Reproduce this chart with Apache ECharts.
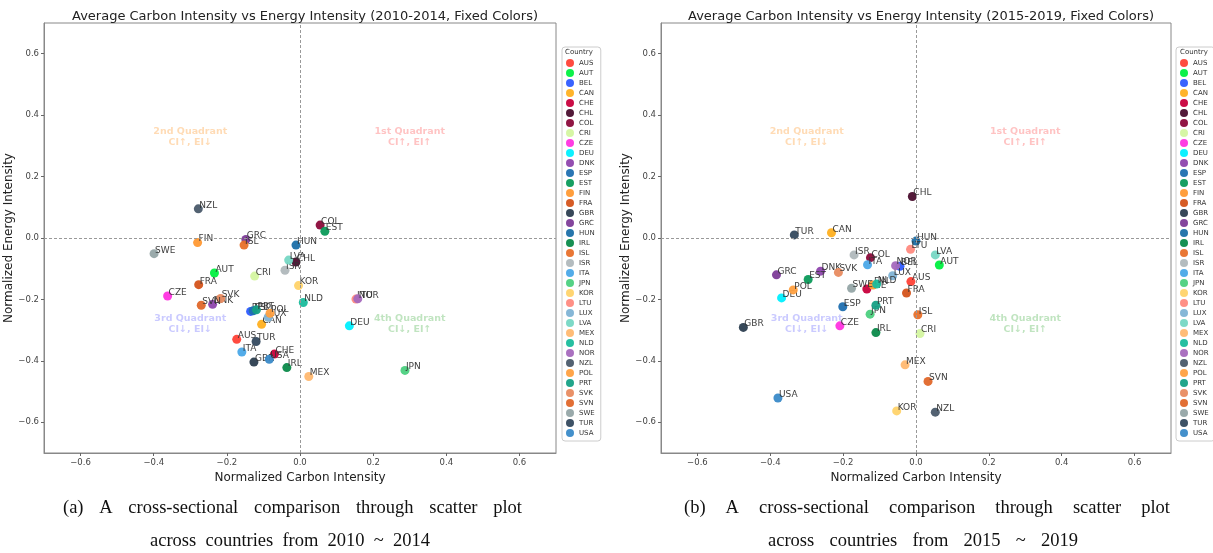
<!DOCTYPE html>
<html>
<head>
<meta charset="utf-8">
<script src="https://cdn.jsdelivr.net/npm/echarts@6/dist/echarts.min.js"></script>
<style>
  html, body { margin: 0; padding: 0; background: #fff; }
  #chart { width: 1213px; height: 553px; }
</style>
</head>
<body>
<div id="chart"></div>
<script>
// country codes, same order as the legend
const countries = ['AUS','AUT','BEL','CAN','CHE','CHL','COL','CRI','CZE','DEU','DNK','ESP','EST','FIN','FRA','GBR','GRC','HUN','IRL','ISL','ISR','ITA','JPN','KOR','LTU','LUX','LVA','MEX','NLD','NOR','NZL','POL','PRT','SVK','SVN','SWE','TUR','USA'];
const colors = ['#ff4136','#00f040','#2e5bff','#ffb020','#c8003c','#4a0e2e','#8b0a3a','#d4f5a0','#ff33e0','#00f0ff','#8e44ad','#1f6fb0','#0b9a5a','#ff9933','#d4531a','#2c3e50','#7d3c98','#1b6fa8','#0b8a4a','#e8702a','#b0b8bc','#4aa8e8','#4cd080','#ffd36a','#ff8a80','#7fb3d5','#76d7c4','#ffb870','#1abc9c','#a569bd','#4a5a6a','#ffa040','#16a085','#e88b60','#e0672a','#95a5a6','#34495e','#3a8ac8'];

// 2010-2014 averages
const ci1014 = [-0.173,-0.234,-0.135,-0.105,-0.070,-0.011,0.055,-0.124,-0.362,0.135,-0.239,-0.128,0.068,-0.280,-0.277,-0.126,-0.148,-0.011,-0.036,-0.153,-0.041,-0.159,0.287,-0.004,0.153,-0.087,-0.031,0.024,0.009,0.158,-0.278,-0.082,-0.119,-0.217,-0.270,-0.399,-0.120,-0.084];
const ei1014 = [-0.330,-0.114,-0.239,-0.281,-0.378,-0.078,0.042,-0.124,-0.189,-0.286,-0.216,-0.237,0.022,-0.015,-0.152,-0.404,-0.005,-0.023,-0.422,-0.023,-0.105,-0.371,-0.431,-0.155,-0.199,-0.258,-0.072,-0.451,-0.210,-0.198,0.095,-0.245,-0.234,-0.197,-0.219,-0.051,-0.337,-0.395];

// 2015-2019 averages
const ci1519 = [-0.014,0.064,-0.044,-0.232,-0.135,-0.010,-0.125,0.011,-0.209,-0.369,-0.262,-0.201,-0.296,-0.118,-0.026,-0.474,-0.383,0.000,-0.110,0.005,-0.170,-0.133,-0.126,-0.053,-0.015,-0.064,0.053,-0.030,-0.108,-0.056,0.053,-0.337,-0.110,-0.213,0.033,-0.177,-0.334,-0.379];
const ei1519 = [-0.142,-0.088,-0.092,0.017,-0.166,0.135,-0.064,-0.311,-0.286,-0.195,-0.108,-0.224,-0.135,-0.153,-0.179,-0.291,-0.120,-0.010,-0.308,-0.250,-0.055,-0.087,-0.248,-0.563,-0.037,-0.123,-0.055,-0.413,-0.150,-0.090,-0.567,-0.169,-0.219,-0.112,-0.467,-0.164,0.010,-0.521];

const tickValues = [-0.6,-0.4,-0.2,0,0.2,0.4,0.6];

// quadrant notes: [x, y, text, color]
const quadrants = [
  [-0.3, 0.33, '2nd Quadrant\nCI↑, EI↓', 'rgba(255,165,70,0.5)'],
  [0.3, 0.33, '1st Quadrant\nCI↑, EI↑', 'rgba(255,90,90,0.45)'],
  [-0.3, -0.28, '3rd Quadrant\nCI↓, EI↓', 'rgba(90,90,255,0.4)'],
  [0.3, -0.28, '4th Quadrant\nCI↓, EI↑', 'rgba(60,170,60,0.4)']
];

const titles = [
  'Average Carbon Intensity vs Energy Intensity (2010-2014, Fixed Colors)',
  'Average Carbon Intensity vs Energy Intensity (2015-2019, Fixed Colors)'
];
const captions = [
  ['(a) A cross-sectional comparison through scatter plot', 'across countries from 2010 ~ 2014'],
  ['(b) A cross-sectional comparison through scatter plot', 'across countries from 2015 ~ 2019']
];

const font = 'DejaVu Sans';
const capFont = '18.5px "Liberation Serif"';
const grids = [
  { left: 44, top: 23, width: 512, height: 430, show: true, borderColor: '#888', borderWidth: 1 },
  { left: 661, top: 23, width: 510, height: 430, show: true, borderColor: '#888', borderWidth: 1 }
];

const tickFmt = v => (v < 0 ? '\u2212' : '') + Math.abs(v).toFixed(1);

function xAxis(i) {
  return {
    gridIndex: i, type: 'value', min: -0.7, max: 0.7,
    name: 'Normalized Carbon Intensity', nameLocation: 'middle', nameGap: 15,
    nameTextStyle: { fontFamily: font, fontSize: 12, color: '#222' },
    axisLine: { show: true, onZero: false, lineStyle: { color: '#888' } },
    axisTick: { show: true, length: 3, customValues: tickValues, lineStyle: { color: '#666' } },
    axisLabel: { customValues: tickValues, fontFamily: font, fontSize: 8.5, color: '#444', margin: 5, formatter: tickFmt },
    splitLine: { show: false }
  };
}
function yAxis(i) {
  return {
    gridIndex: i, type: 'value', min: -0.7, max: 0.7,
    name: 'Normalized Energy Intensity', nameLocation: 'middle', nameGap: 20,
    nameTextStyle: { fontFamily: font, fontSize: 12, color: '#222' },
    axisLine: { show: true, onZero: false, lineStyle: { color: '#888' } },
    axisTick: { show: true, length: 3, customValues: tickValues, lineStyle: { color: '#666' } },
    axisLabel: { customValues: tickValues, fontFamily: font, fontSize: 8.5, color: '#444', margin: 5, formatter: tickFmt },
    splitLine: { show: false }
  };
}

const series = [];
[[ci1014, ei1014], [ci1519, ei1519]].forEach(([cx, cy], g) => {
  // dashed zero lines
  series.push({
    type: 'scatter', name: 'zero' + g, xAxisIndex: g, yAxisIndex: g, data: [], silent: true,
    markLine: {
      silent: true, symbol: 'none', label: { show: false },
      lineStyle: { color: '#999', type: [3, 2], width: 1 },
      data: [{ xAxis: 0 }, { yAxis: 0 }]
    }
  });
  // quadrant notes
  series.push({
    type: 'scatter', name: 'quad' + g, xAxisIndex: g, yAxisIndex: g, symbolSize: 0, silent: true,
    data: quadrants.map(q => ({
      value: [q[0], q[1]],
      label: { show: true, position: 'inside', formatter: q[2], color: q[3],
        fontFamily: font, fontSize: 9.5, fontWeight: 'bold', lineHeight: 11, align: 'center' }
    }))
  });
  countries.forEach((c, i) => {
    series.push({
      type: 'scatter', name: c, xAxisIndex: g, yAxisIndex: g,
      symbolSize: 9, itemStyle: { color: colors[i], opacity: 0.95 },
      data: [[cx[i], cy[i]]],
      label: { show: true, formatter: c, position: 'right', distance: 0, offset: [-3.5, -3.5],
        fontFamily: font, fontSize: 9, color: '#333' },
      z: 3 + i * 0.01
    });
  });
});

function legend(left) {
  return {
    orient: 'vertical', left: left, top: 47, data: countries,
    icon: 'circle', itemWidth: 8, itemHeight: 8, itemGap: 2,
    padding: [12, 6, 4, 4],
    borderColor: '#ccc', borderWidth: 1, borderRadius: 3,
    textStyle: { fontFamily: font, fontSize: 7, lineHeight: 8, color: '#333' },
    selectedMode: false
  };
}

// spread the words of a caption line evenly between x0 and x1 (justified look)
const measure = document.createElement('canvas').getContext('2d');
measure.font = capFont;
function justified(text, x0, x1, y) {
  const words = text.split(' ');
  const widths = words.map(w => measure.measureText(w).width);
  const total = widths.reduce((a, b) => a + b, 0);
  const gap = (x1 - x0 - total) / (words.length - 1);
  let x = x0;
  return words.map((w, k) => {
    const el = { type: 'text', x: x, y: y, style: { text: w, font: capFont, fill: '#111', verticalAlign: 'middle' } };
    x += widths[k] + gap;
    return el;
  });
}

const chart = echarts.init(document.getElementById('chart'));
chart.setOption({
  animation: false,
  backgroundColor: '#fff',
  title: [
    { text: titles[0], left: 300, top: 5, textAlign: 'center',
      textStyle: { fontFamily: font, fontSize: 13, fontWeight: 'normal', color: '#222' } },
    { text: titles[1], left: 916, top: 5, textAlign: 'center',
      textStyle: { fontFamily: font, fontSize: 13, fontWeight: 'normal', color: '#222' } }
  ],
  grid: grids,
  xAxis: [xAxis(0), xAxis(1)],
  yAxis: [yAxis(0), yAxis(1)],
  legend: [legend(562), legend(1176)],
  series: series,
  graphic: [
    { type: 'text', left: 565, top: 49, style: { text: 'Country', font: '7px "DejaVu Sans"', fill: '#333' } },
    { type: 'text', left: 1180, top: 49, style: { text: 'Country', font: '7px "DejaVu Sans"', fill: '#333' } }
  ].concat(
    justified(captions[0][0], 63, 522, 508),
    justified(captions[0][1], 150, 430, 541),
    justified(captions[1][0], 684, 1170, 508),
    justified(captions[1][1], 768, 1078, 541)
  )
});
</script>
</body>
</html>
